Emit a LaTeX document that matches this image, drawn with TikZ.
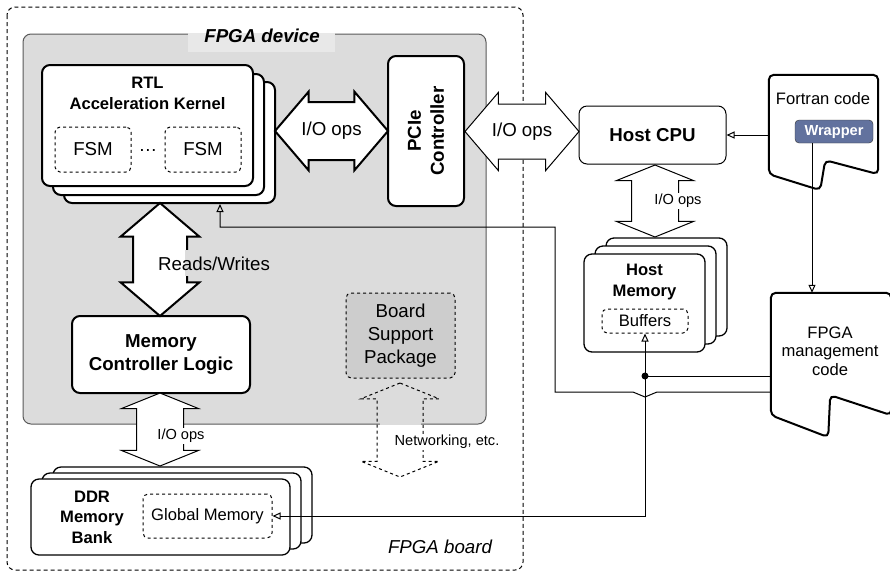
\documentclass[tikz,border=0pt]{standalone}
\usepackage{fontspec}
\setmainfont{Liberation Sans}
\usetikzlibrary{shapes.arrows,arrows.meta,calc}

\definecolor{devgray}{HTML}{DCDCDC}
\definecolor{labelgray}{HTML}{E8E8E8}
\definecolor{bspgray}{HTML}{CDCDCD}
\definecolor{wrapblue}{HTML}{62729E}

\newcommand{\fbig}{\fontsize{18.7}{23}\selectfont}
\newcommand{\fmid}{\fontsize{16.6}{21}\selectfont}
\newcommand{\fsmall}{\fontsize{14.6}{17}\selectfont}

\begin{document}
\begin{tikzpicture}[x=1pt,y=-1pt,
  block/.style={draw,rounded corners=8pt,fill=white,line width=2pt,inner sep=0pt,align=center},
  stack/.style={draw,rounded corners=8pt,fill=white,line width=1.3pt,inner sep=0pt},
  sub/.style={draw,dashed,rounded corners=5pt,line width=1pt,inner sep=0pt,align=center},
  ioarrow/.style={double arrow,draw,fill=white,inner xsep=0pt,inner ysep=28pt,
    double arrow head extend=10.5pt,double arrow tip angle=99},
  flatio/.style={ioarrow,line width=1pt,inner ysep=23pt,double arrow head extend=15pt,double arrow tip angle=136},
  conn/.style={line width=1pt,-{Triangle[open,length=8pt,width=7pt]}}]

  \useasboundingbox (0,0) rectangle (890,574);

  % board and device
  \draw[dash pattern=on 4pt off 3pt,line width=1pt,rounded corners=8pt] (7,7) rectangle (523,570);
  \draw[fill=devgray,draw=black!65,line width=1pt,rounded corners=8pt] (23,34) rectangle (486,424);
  \node[fill=labelgray,minimum width=147pt,minimum height=19pt,inner sep=0pt] (devbg) at (261.5,42.5) {};
  \node[font=\fbig\bfseries\itshape] (devlabel) at (262,36) {FPGA device};
  \node[font=\fbig\itshape] (boardlabel) at (440,547) {FPGA board};

  % kernel stack
  \node[block,minimum width=211pt,minimum height=121pt] (rtl3) at (169.5,142.5) {};
  \node[block,minimum width=211pt,minimum height=121pt] (rtl2) at (158.5,134.5) {};
  \node[block,minimum width=211pt,minimum height=121pt] (rtl1) at (147.5,125.5) {};
  \node[font=\fmid\bfseries,align=center] (rtltitle) at (147.5,93) {RTL\\Acceleration Kernel};
  \node[sub,minimum width=76pt,minimum height=45pt,font=\fbig] (fsm1) at (93,149.5) {FSM};
  \node[sub,minimum width=76pt,minimum height=45pt,font=\fbig] (fsm2) at (203,149.5) {FSM};
  \node[font=\fbig] (dots) at (148,150) {\dots};

  \node[block,rotate=90,minimum width=150pt,minimum height=76pt,font=\fbig\bfseries] (pcie) at (426,131) {PCIe\\Controller};
  \node[ioarrow,line width=2pt,minimum height=113pt] (io1) at (331.5,131) {};
  \node[font=\fbig] (io1text) at (331.5,131) {I/O ops};

  % host side
  \node[block,line width=1pt,minimum width=147pt,minimum height=58pt,font=\fbig\bfseries] (cpu) at (652.5,135) {Host CPU};
  \node[ioarrow,line width=1pt,inner ysep=27pt,minimum height=114pt,double arrow head extend=11.5pt] (io2) at (522,131.5) {};
  \node[font=\fbig] (io2text) at (522,131.5) {I/O ops};

  \node[flatio,rotate=90,minimum height=72pt] (io3) at (655,201) {};
  \node[fill=white,font=\fsmall,inner sep=1pt] (io3text) at (678,201) {I/O ops};

  \node[stack,minimum width=121pt,minimum height=98pt] (hmem3) at (666.5,287) {};
  \node[stack,minimum width=121pt,minimum height=98pt] (hmem2) at (655.5,295) {};
  \node[stack,minimum width=121pt,minimum height=98pt] (hmem1) at (644.5,303) {};
  \node[font=\fmid\bfseries,align=center] (hmemtitle) at (644.5,282) {Host\\Memory};
  \node[sub,minimum width=86pt,minimum height=24pt,font=\fmid] (buffers) at (645,321) {Buffers};

  % code shapes
  \node[minimum width=109pt,minimum height=99pt,inner sep=0pt] (fortran) at (823.5,124.5) {};
  \draw[line width=2pt,rounded corners=5pt,fill=white] (fortran.north west) -- (fortran.north east)
    -- (fortran.south east) -- ++(-53,-14) -- ++(-5,30) -- (fortran.south west) -- cycle;
  \node[font=\fmid] (fortrantext) at (823,99) {Fortran code};
  \node[draw=black!80,fill=wrapblue,rounded corners=4pt,minimum width=78pt,minimum height=23pt,
    inner sep=0pt,text=white,font=\fsmall\bfseries] (wrapper) at (834,131.5) {Wrapper};

  \node[minimum width=120pt,minimum height=122pt,inner sep=0pt] (mgmt) at (831,354) {};
  \draw[line width=2pt,rounded corners=5pt,fill=white] (mgmt.north west) -- (mgmt.north east)
    -- (mgmt.south east) -- ++(-61,-20) -- ++(-2,42) -- (mgmt.south west) -- cycle;
  \node[font=\fontsize{16.6}{18.5}\selectfont,align=center] (mgmttext) at (830,351) {FPGA\\management\\code};

  % memory side
  \node[block,minimum width=178pt,minimum height=77pt,font=\fbig\bfseries] (mcl) at (161,354.5) {Memory\\Controller Logic};
  \node[ioarrow,rotate=90,line width=2pt,inner ysep=26pt,double arrow head extend=12.5pt,minimum height=113pt] (rw) at (160,259.5) {};
  \node[fill=devgray,minimum width=5pt,minimum height=26pt,inner sep=0pt] (rwgap) at (187,263) {};
  \node[font=\fbig,inner sep=1pt] (rwtext) at (214,264) {Reads/Writes};

  \node[flatio,rotate=90,minimum height=73pt] (io4) at (160,429.5) {};
  \node[fill=white,font=\fsmall,inner sep=1pt] (io4text) at (181,436) {I/O ops};

  \node[stack,minimum width=259pt,minimum height=76pt] (ddr3) at (182.5,505) {};
  \node[stack,minimum width=259pt,minimum height=76pt] (ddr2) at (171.5,511) {};
  \node[stack,minimum width=259pt,minimum height=76pt] (ddr1) at (160.5,517) {};
  \node[font=\fontsize{16.6}{20.5}\selectfont\bfseries,align=center] (ddrtext) at (92,517) {DDR\\Memory\\Bank};
  \node[sub,minimum width=129pt,minimum height=44pt,font=\fmid] (gmem) at (207.5,516) {Global Memory};

  \node[sub,fill=bspgray,minimum width=109pt,minimum height=85pt,font=\fbig] (bsp) at (400.5,335.5) {Board\\Support\\Package};
  \draw[devgray,line width=1.6pt] (379.5,424) -- (420.5,424);
  \node[flatio,rotate=90,dashed,fill=none,inner ysep=22.5pt,double arrow head extend=16pt,minimum height=94pt] (net) at (400,430) {};
  \node[fill=white,font=\fsmall,inner sep=1pt] (nettext) at (447,442) {Networking, etc.};

  % control lines
  \coordinate (m1) at ([yshift=-22pt]mgmt.west);
  \coordinate (m2) at ([yshift=-38pt]mgmt.west);
  \coordinate (jn) at (buffers.south |- m1);
  \coordinate (turn) at (555,227);
  \coordinate (bend) at (220,227);

  \draw[conn] (fortran.west |- cpu.east) -- (cpu.east);
  \draw[conn] ([xshift=-22pt]wrapper.south) -- ([xshift=-22pt]wrapper.south |- mgmt.north);
  \draw[line width=1pt] (m1) -- (jn);
  \draw[conn] (jn) -- (buffers.south);
  \draw[conn] (jn) -- (jn |- gmem.east) -- (gmem.east);
  \fill (jn) circle (3.5pt);
  \draw[conn] (m2) -- ($(jn |- m2)+(12,0)$) -- ++(-12,5) -- ++(-12,-5) -- (m2 -| turn)
    -- (turn) -- (bend) -- (bend |- rtl3.south);
\end{tikzpicture}
\end{document}
